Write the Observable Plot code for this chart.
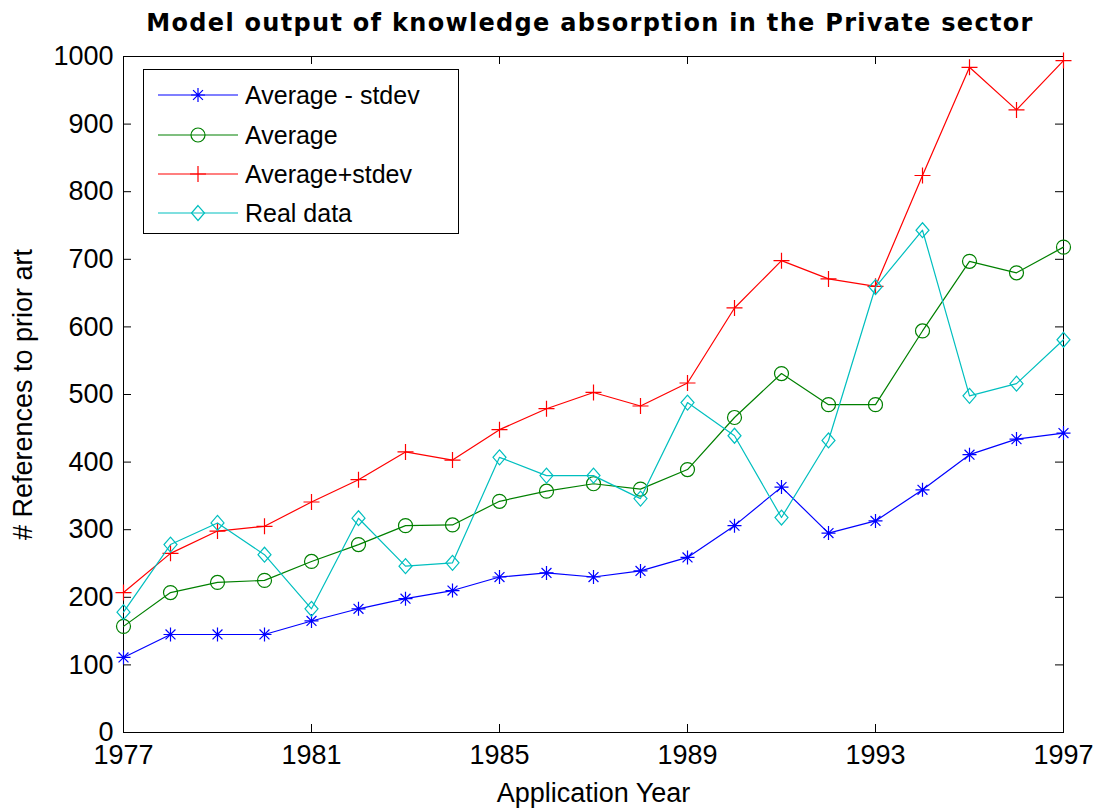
<!DOCTYPE html>
<html><head><meta charset="utf-8">
<script src="https://cdn.jsdelivr.net/npm/d3@7"></script>
<script src="https://cdn.jsdelivr.net/npm/@observablehq/plot@0.6"></script>
<style>
body{margin:0;background:#fff;}
#wrap{position:relative;width:1098px;height:809px;font-family:Arial,"Liberation Sans",sans-serif;color:#000;overflow:hidden;}
#title{position:absolute;left:90px;width:1000px;top:11px;text-align:center;font-family:"DejaVu Sans",sans-serif;font-weight:bold;font-size:24px;letter-spacing:1.3px;line-height:1;}
#chart{position:absolute;left:0;top:0;}
#legend{position:absolute;left:143px;top:69px;}
</style></head>
<body><div id="wrap"><div id="chart"></div><div id="title">Model output of knowledge absorption in the Private sector</div><div id="legend"></div></div>
<script>
const years = [1977,1978,1979,1980,1981,1982,1983,1984,1985,1986,1987,1988,1989,1990,1991,1992,1993,1994,1995,1996,1997];
const avgMinusStd = [111,145,145,145,165,183,198,210,230,236,230,239,259,306,363,295,313,359,411,434,443];
const average     = [157,207,222,225,253,278,306,307,342,357,368,360,389,466,531,485,485,594,697,680,718];
const avgPlusStd  = [207,265,298,305,341,374,415,403,448,479,503,483,517,628,698,671,660,824,984,921,994];
const realData    = [178,278,310,263,183,317,246,251,407,380,380,346,488,439,318,432,659,743,498,516,581];
const seriesNames = ["Average - stdev","Average","Average+stdev","Real data"];
const xTicks = [1977,1981,1985,1989,1993,1997];
const yTicks = [0,100,200,300,400,500,600,700,800,900,1000];

const rad = size => Math.sqrt(size / Math.PI);
const symStar = {draw(c, s){const r = rad(s), d = r*0.7071;
  c.moveTo(-r,0);c.lineTo(r,0);c.moveTo(0,-r);c.lineTo(0,r);
  c.moveTo(-d,-d);c.lineTo(d,d);c.moveTo(-d,d);c.lineTo(d,-d);}};
const symCircle = {draw(c, s){const r = rad(s); c.moveTo(r,0); c.arc(0,0,r,0,2*Math.PI);}};
const symPlus = {draw(c, s){const r = rad(s); c.moveTo(-r,0);c.lineTo(r,0);c.moveTo(0,-r);c.lineTo(0,r);}};
const symDiamond = {draw(c, s){const r = rad(s), h = r*1.15; c.moveTo(0,-h);c.lineTo(r,0);c.lineTo(0,h);c.lineTo(-r,0);c.closePath();}};

const series = [
  {name: seriesNames[0], values: avgMinusStd, color: "#0000ff", symbol: symStar, r: 7},
  {name: seriesNames[1], values: average, color: "#008000", symbol: symCircle, r: 7},
  {name: seriesNames[2], values: avgPlusStd, color: "#ff0000", symbol: symPlus, r: 8},
  {name: seriesNames[3], values: realData, color: "#00bfbf", symbol: symDiamond, r: 6.5}
];

const W = 1098, H = 809, mL = 123, mR = 35, mT = 56, mB = 77;
const plotW = W - mL - mR, plotH = H - mT - mB, tick = 8;

const marks = [
  Plot.frame({stroke: "black", strokeWidth: 1}),
  Plot.tickX(xTicks, {x: d => d, insetTop: plotH - tick, stroke: "black"}),
  Plot.tickX(xTicks, {x: d => d, insetBottom: plotH - tick, stroke: "black"}),
  Plot.tickY(yTicks, {y: d => d, insetRight: plotW - tick, stroke: "black"}),
  Plot.tickY(yTicks, {y: d => d, insetLeft: plotW - tick, stroke: "black"}),
  Plot.axisX({ticks: xTicks, tickSize: 0, tickPadding: 12, tickFormat: "d", label: "Application Year", labelAnchor: "center", labelOffset: 69, labelArrow: "none"}),
  Plot.axisY({ticks: yTicks, tickSize: 0, tickPadding: 10, tickFormat: "d", label: "# References to prior art", labelAnchor: "center", labelOffset: 111, labelArrow: "none"})
];
for (const s of series) {
  const rows = s.values.map((v, i) => ({year: years[i], value: v}));
  marks.push(Plot.line(rows, {x: "year", y: "value", stroke: s.color, strokeWidth: 1.2}));
  marks.push(Plot.dot(rows, {x: "year", y: "value", symbol: s.symbol, r: s.r, stroke: s.color, fill: "none", strokeWidth: 1.2}));
}

const chart = Plot.plot({
  width: W, height: H,
  marginLeft: mL, marginRight: mR, marginTop: mT, marginBottom: mB,
  x: {domain: [1977, 1997]},
  y: {domain: [0, 1000]},
  style: {fontFamily: "Arial, 'Liberation Sans', sans-serif", fontSize: "27px", color: "black", background: "white"},
  marks
});
document.getElementById("chart").appendChild(chart);

// legend
const lg = d3.select("#legend").append("svg").attr("width", 317).attr("height", 166);
lg.append("rect").attr("x", 0.5).attr("y", 0.5).attr("width", 315).attr("height", 164).attr("fill", "white").attr("stroke", "black");
const rowY = [26, 66, 105, 144];
series.forEach((s, i) => {
  const g = lg.append("g").attr("transform", `translate(0,${rowY[i]})`);
  g.append("line").attr("x1", 15).attr("x2", 95).attr("stroke", s.color).attr("stroke-width", 1.2);
  g.append("path").attr("transform", "translate(55,0)")
    .attr("d", d3.symbol(s.symbol, Math.PI * s.r * s.r)())
    .attr("fill", "none").attr("stroke", s.color).attr("stroke-width", 1.2);
  g.append("text").attr("x", 102).attr("dy", "0.35em").attr("font-size", 25)
    .attr("font-family", "Arial, 'Liberation Sans', sans-serif").attr("fill", "black").text(s.name);
});
</script>
</body></html>
